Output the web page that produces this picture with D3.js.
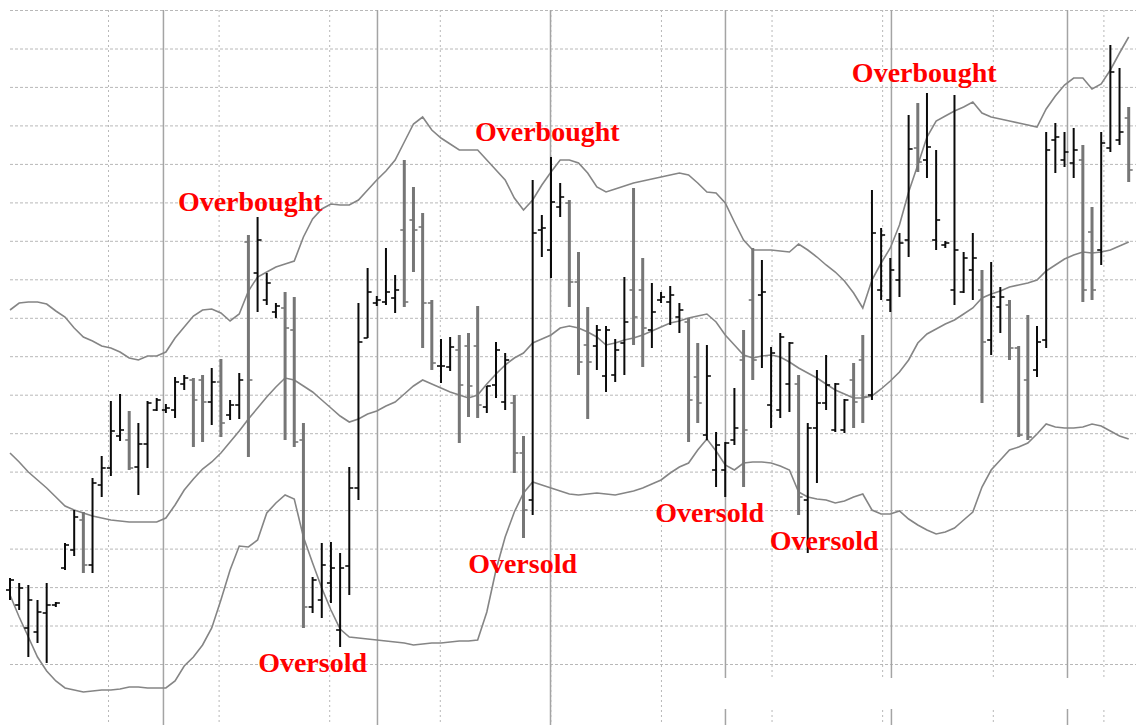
<!DOCTYPE html>
<html>
<head>
<meta charset="utf-8">
<script src="https://cdn.jsdelivr.net/npm/d3@7"></script>
<style>
  html, body { margin: 0; padding: 0; background: #ffffff; }
  #plot { width: 1136px; height: 725px; overflow: hidden; }
  .grid-h line { stroke: #b8b8b8; stroke-width: 1; stroke-dasharray: 3,2; }
  .grid-v line { stroke: #b8b8b8; stroke-width: 1; stroke-dasharray: 2,3; }
  .grid-s line { stroke: #a4a4a4; stroke-width: 1.5; }
  .grid-h path, .grid-v path, .grid-s path { display: none; }
  .band { fill: none; stroke: #858585; stroke-width: 1.6; }
  .label { font-family: "Liberation Serif", "Times New Roman", serif; font-weight: bold; font-size: 28px; fill: #ff0000; }
</style>
</head>
<body>
<div id="plot"></div>
<script>
var svgWidth = 1136;
var svgHeight = 725;

// daily OHLC bars
var high = [
  1.2147,1.2142,1.2140,1.2125,1.2142,1.2123,1.2182,1.2215,1.2213,1.2247,
  1.2269,1.2324,1.2331,1.2314,1.2302,1.2324,1.2327,1.2321,1.2348,1.2350,
  1.2347,1.2350,1.2357,1.2366,1.2325,1.2352,1.2490,1.2508,1.2452,1.2422,
  1.2433,1.2428,1.2302,1.2148,1.2182,1.2183,1.2172,1.2258,1.2422,1.2457,
  1.2429,1.2477,1.2450,1.2565,1.2538,1.2512,1.2425,1.2386,1.2388,1.2390,
  1.2392,1.2419,1.2339,1.2383,1.2372,1.2330,1.2289,1.2545,1.2510,1.2568,
  1.2542,1.2525,1.2473,1.2418,1.2400,1.2399,1.2386,1.2448,1.2537,1.2467,
  1.2442,1.2433,1.2439,1.2422,1.2407,1.2382,1.2380,1.2293,1.2283,1.2337,
  1.2395,1.2477,1.2465,1.2378,1.2392,1.2383,1.2350,1.2302,1.2355,1.2370,
  1.2342,1.2326,1.2362,1.2390,1.2535,1.2497,1.2467,1.2492,1.2610,1.2622,
  1.2632,1.2575,1.2484,1.2630,1.2473,1.2492,1.2455,1.2463,1.2438,1.2425,
  1.2379,1.2410,1.2399,1.2593,1.2602,1.2593,1.2597,1.2580,1.2518,1.2593,
  1.2680,1.2657,1.2618
];
var low = [
  1.2125,1.2115,1.2068,1.2082,1.2062,1.2118,1.2155,1.2169,1.2152,1.2152,
  1.2228,1.2249,1.2284,1.2255,1.2230,1.2257,1.2314,1.2312,1.2307,1.2335,
  1.2278,1.2283,1.2300,1.2288,1.2305,1.2306,1.2268,1.2413,1.2420,1.2407,
  1.2285,1.2278,1.2097,1.2112,1.2107,1.2122,1.2078,1.2130,1.2225,1.2387,
  1.2419,1.2420,1.2412,1.2418,1.2453,1.2377,1.2355,1.2342,1.2354,1.2282,
  1.2308,1.2307,1.2312,1.2327,1.2315,1.2252,1.2187,1.2210,1.2468,1.2447,
  1.2508,1.2418,1.2350,1.2306,1.2355,1.2333,1.2343,1.2350,1.2380,1.2358,
  1.2377,1.2422,1.2400,1.2392,1.2283,1.2302,1.2285,1.2238,1.2228,1.2280,
  1.2238,1.2345,1.2357,1.2297,1.2307,1.2313,1.2210,1.2172,1.2242,1.2315,
  1.2293,1.2292,1.2297,1.2302,1.2325,1.2425,1.2413,1.2428,1.2468,1.2553,
  1.2547,1.2475,1.2477,1.2420,1.2432,1.2425,1.2322,1.2370,1.2392,1.2365,
  1.2288,1.2285,1.2348,1.2377,1.2552,1.2558,1.2547,1.2423,1.2425,1.2460,
  1.2573,1.2580,1.2543
];
var open = [
  1.2135,1.2120,1.2097,1.2093,1.2112,1.2120,1.2157,1.2175,1.2205,1.2160,
  1.2240,1.2257,1.2289,1.2285,1.2258,1.2281,1.2315,1.2315,1.2315,1.2341,
  1.2345,1.2345,1.2323,1.2343,1.2310,1.2320,1.2483,1.2452,1.2425,1.2413,
  1.2417,1.2395,1.2285,1.2118,1.2125,1.2142,1.2095,1.2159,1.2237,1.2387,
  1.2422,1.2423,1.2427,1.2495,1.2505,1.2498,1.2422,1.2359,1.2358,1.2375,
  1.2379,1.2379,1.2318,1.2340,1.2323,1.2322,1.2272,1.2225,1.2495,1.2475,
  1.2518,1.2522,1.2443,1.2380,1.2379,1.2349,1.2350,1.2382,1.2435,1.2435,
  1.2395,1.2425,1.2423,1.2408,1.2403,1.2348,1.2290,1.2255,1.2255,1.2285,
  1.2365,1.2425,1.2430,1.2320,1.2315,1.2341,1.2341,1.2225,1.2297,1.2322,
  1.2295,1.2295,1.2345,1.2365,1.2330,1.2435,1.2425,1.2445,1.2485,1.2577,
  1.2565,1.2485,1.2480,1.2435,1.2433,1.2455,1.2435,1.2385,1.2418,1.2420,
  1.2377,1.2345,1.2355,1.2385,1.2585,1.2565,1.2562,1.2565,1.2493,1.2475,
  1.2577,1.2585,1.2607
];
var close = [
  1.2145,1.2137,1.2125,1.2113,1.2120,1.2122,1.2180,1.2208,1.2160,1.2242,
  1.2257,1.2294,1.2295,1.2257,1.2281,1.2322,1.2325,1.2317,1.2343,1.2347,
  1.2325,1.2323,1.2343,1.2302,1.2320,1.2345,1.2345,1.2485,1.2442,1.2419,
  1.2397,1.2283,1.2118,1.2145,1.2160,1.2157,1.2157,1.2237,1.2383,1.2433,
  1.2425,1.2433,1.2435,1.2423,1.2495,1.2422,1.2362,1.2359,1.2378,1.2340,
  1.2339,1.2320,1.2339,1.2375,1.2365,1.2272,1.2215,1.2492,1.2497,1.2523,
  1.2528,1.2443,1.2363,1.2363,1.2395,1.2395,1.2375,1.2403,1.2408,1.2397,
  1.2413,1.2428,1.2430,1.2415,1.2325,1.2322,1.2349,1.2280,1.2282,1.2297,
  1.2295,1.2365,1.2433,1.2372,1.2388,1.2382,1.2228,1.2297,1.2322,1.2340,
  1.2341,1.2325,1.2323,1.2328,1.2492,1.2490,1.2455,1.2482,1.2576,1.2563,
  1.2578,1.2505,1.2482,1.2475,1.2467,1.2467,1.2383,1.2428,1.2428,1.2377,
  1.2290,1.2288,1.2383,1.2575,1.2588,1.2573,1.2575,1.2435,1.2435,1.2582,
  1.2653,1.2593,1.2555
];

// bollinger bands
var upperBand = [
  1.2415,1.2422,1.2423,1.2423,1.2421,1.2414,1.2408,1.2397,1.2388,1.2384,
  1.2379,1.2377,1.2373,1.2367,1.2365,1.2369,1.2369,1.2373,1.2387,1.2398,
  1.2409,1.2415,1.2416,1.2412,1.2404,1.2411,1.2434,1.2448,1.2453,1.2458,
  1.2461,1.2464,1.2488,1.2506,1.2516,1.2521,1.2520,1.2520,1.2525,1.2535,
  1.2545,1.2554,1.2565,1.2583,1.2601,1.2608,1.2595,1.2587,1.2581,1.2575,
  1.2575,1.2575,1.2565,1.2555,1.2545,1.2527,1.2515,1.2525,1.2540,1.2553,
  1.2565,1.2565,1.2562,1.2552,1.2538,1.2533,1.2536,1.2539,1.2542,1.2544,
  1.2546,1.2548,1.2550,1.2552,1.2550,1.2542,1.2533,1.2532,1.2522,1.2503,
  1.2485,1.2475,1.2475,1.2475,1.2474,1.2473,1.2481,1.2475,1.2468,1.2460,
  1.2453,1.2444,1.2432,1.2417,1.2445,1.2462,1.2477,1.2500,1.2533,1.2560,
  1.2588,1.2604,1.2609,1.2614,1.2618,1.2623,1.2612,1.2608,1.2606,1.2604,
  1.2602,1.2600,1.2598,1.2616,1.2629,1.2640,1.2647,1.2647,1.2636,1.2641,
  1.2655,1.2672,1.2688
];
var middleBand = [
  1.2272,1.2263,1.2253,1.2245,1.2237,1.2228,1.2219,1.2215,1.2212,1.2209,
  1.2207,1.2205,1.2204,1.2203,1.2203,1.2203,1.2203,1.2207,1.2220,1.2235,
  1.2246,1.2256,1.2263,1.2272,1.2283,1.2294,1.2306,1.2317,1.2328,1.2338,
  1.2347,1.2345,1.2339,1.2333,1.2325,1.2317,1.2309,1.2303,1.2306,1.2311,
  1.2314,1.2319,1.2323,1.2331,1.2339,1.2345,1.2341,1.2337,1.2333,1.2330,
  1.2327,1.2330,1.2341,1.2351,1.2360,1.2367,1.2372,1.2382,1.2386,1.2390,
  1.2397,1.2399,1.2397,1.2393,1.2388,1.2380,1.2382,1.2385,1.2387,1.2390,
  1.2394,1.2398,1.2402,1.2404,1.2407,1.2409,1.2411,1.2403,1.2390,1.2380,
  1.2370,1.2367,1.2369,1.2370,1.2368,1.2363,1.2357,1.2352,1.2347,1.2341,
  1.2335,1.2331,1.2327,1.2327,1.2329,1.2336,1.2344,1.2353,1.2365,1.2382,
  1.2391,1.2396,1.2401,1.2405,1.2411,1.2417,1.2427,1.2431,1.2434,1.2438,
  1.2440,1.2442,1.2445,1.2454,1.2460,1.2466,1.2470,1.2473,1.2472,1.2473,
  1.2475,1.2479,1.2483
];
var lowerBand = [
  1.2130,1.2108,1.2088,1.2068,1.2054,1.2044,1.2037,1.2035,1.2033,1.2034,
  1.2035,1.2035,1.2036,1.2038,1.2038,1.2037,1.2037,1.2037,1.2044,1.2059,
  1.2068,1.2080,1.2097,1.2125,1.2155,1.2179,1.2178,1.2185,1.2212,1.2222,
  1.2230,1.2226,1.2188,1.2162,1.2137,1.2115,1.2096,1.2088,1.2087,1.2086,
  1.2085,1.2084,1.2083,1.2082,1.2080,1.2081,1.2082,1.2082,1.2083,1.2084,
  1.2084,1.2085,1.2113,1.2155,1.2188,1.2213,1.2232,1.2243,1.2240,1.2237,
  1.2234,1.2231,1.2230,1.2231,1.2232,1.2231,1.2230,1.2232,1.2234,1.2237,
  1.2241,1.2245,1.2252,1.2258,1.2262,1.2275,1.2286,1.2274,1.2260,1.2255,
  1.2262,1.2263,1.2263,1.2262,1.2259,1.2255,1.2233,1.2228,1.2226,1.2225,
  1.2222,1.2224,1.2228,1.2231,1.2215,1.2211,1.2211,1.2214,1.2206,1.2200,
  1.2195,1.2191,1.2193,1.2197,1.2205,1.2213,1.2238,1.2255,1.2265,1.2275,
  1.2278,1.2282,1.2291,1.2301,1.2298,1.2297,1.2297,1.2298,1.2301,1.2299,
  1.2294,1.2289,1.2286
];

// price levels of the horizontal grid
var gridPrices = [1.2061, 1.20995, 1.21379, 1.21764, 1.22149, 1.22534, 1.22918, 1.23303, 1.23688,
  1.24072, 1.24457, 1.24842, 1.25226, 1.25611, 1.25996, 1.26381, 1.26765, 1.2715];
// bar positions of vertical grid lines
var dashedBars = [10.69, 22.75, 34.81, 46.87, 58.93, 70.99, 83.05, 95.11, 107.18, 119.24];
var monthBars = [16.68, 40.02, 58.89, 77.97, 96.07, 115.27];

// annotations
var labelText = ["Overbought", "Overbought", "Overbought", "Oversold", "Oversold", "Oversold", "Oversold"];
var labelBar = [26.2, 58.6, 99.7, 33.0, 55.9, 76.3, 88.8];
var labelPrice = [1.2514, 1.2584, 1.2643, 1.2053, 1.2152, 1.2203, 1.2175];

var svg = d3
  .select("#plot")
  .append("svg")
  .attr("width", svgWidth)
  .attr("height", svgHeight);

svg.append("rect")
  .attr("width", svgWidth)
  .attr("height", svgHeight)
  .attr("fill", "#ffffff");

var xScale = d3.scaleLinear()
  .domain([0, high.length - 1])
  .range([10, 1128.7]);

var yScale = d3.scaleLinear()
  .domain([1.2, 1.2725])
  .range([svgHeight, 0]);

// gridlines
svg.append("g")
  .attr("class", "grid-h")
  .attr("transform", "translate(10,0)")
  .call(d3.axisRight(yScale)
    .tickValues(gridPrices)
    .tickSize(svgWidth - 10)
    .tickFormat(""));

svg.append("g")
  .attr("class", "grid-v")
  .attr("transform", "translate(0,10)")
  .call(d3.axisBottom(xScale)
    .tickValues(dashedBars)
    .tickSize(svgHeight - 10)
    .tickFormat(""));

svg.append("g")
  .attr("class", "grid-s")
  .attr("transform", "translate(0,10)")
  .call(d3.axisBottom(xScale)
    .tickValues(monthBars)
    .tickSize(svgHeight - 10)
    .tickFormat(""));

// blank strip under the right part of the plot
svg.append("rect")
  .attr("x", 690)
  .attr("y", 678)
  .attr("width", svgWidth - 690)
  .attr("height", 31)
  .attr("fill", "#ffffff");

// bands
function bandLine(values) {
  return d3.line()
    .x((d, i) => xScale(i))
    .y(d => yScale(d))(values);
}
[upperBand, middleBand, lowerBand].forEach(function(b) {
  svg.append("path")
    .attr("class", "band")
    .attr("d", bandLine(b));
});

// OHLC bars
var bars = svg.append("g")
  .selectAll("g")
  .data(high.map((h, i) => ({ i: i, h: h, l: low[i], o: open[i], c: close[i] })))
  .enter()
  .append("g")
  .attr("stroke", d => d.c < d.o ? "#767676" : "#0a0a0a");

bars.append("line")
  .attr("x1", d => xScale(d.i))
  .attr("x2", d => xScale(d.i))
  .attr("y1", d => yScale(d.h))
  .attr("y2", d => yScale(d.l))
  .attr("stroke-width", d => d.c < d.o ? 3 : 2);

bars.append("line")
  .attr("x1", d => xScale(d.i) - 4)
  .attr("x2", d => xScale(d.i))
  .attr("y1", d => yScale(d.o))
  .attr("y2", d => yScale(d.o))
  .attr("stroke-width", 1.6);

bars.append("line")
  .attr("x1", d => xScale(d.i))
  .attr("x2", d => xScale(d.i) + 4)
  .attr("y1", d => yScale(d.c))
  .attr("y2", d => yScale(d.c))
  .attr("stroke-width", 1.6);

// labels
svg.append("g")
  .selectAll("text")
  .data(labelText)
  .enter()
  .append("text")
  .attr("class", "label")
  .attr("x", (d, i) => xScale(labelBar[i]))
  .attr("y", (d, i) => yScale(labelPrice[i]))
  .attr("text-anchor", "middle")
  .text(d => d);
</script>
</body>
</html>
